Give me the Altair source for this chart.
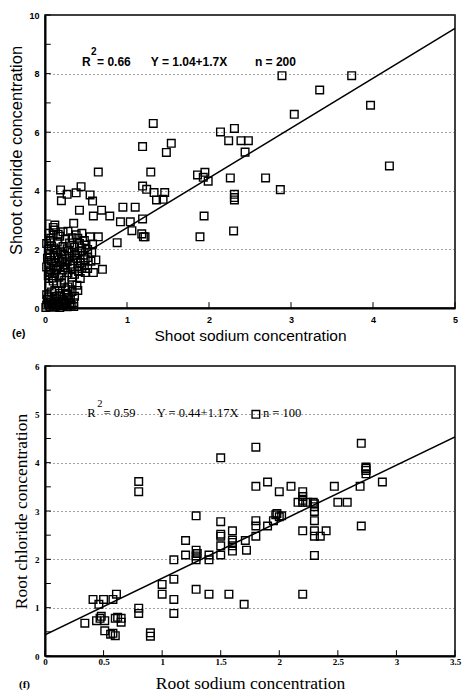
import altair as alt
import pandas as pd

# ---------------- panel (e): shoot ----------------
shoot_na = [
    2.89, 3.74, 3.35, 3.97, 3.04, 2.14, 2.31, 2.24, 2.39, 2.48, 2.44, 4.20, 1.95, 1.93, 1.99, 1.86,
    2.26, 2.69, 2.87, 2.31, 2.31, 2.31, 1.94, 1.89, 2.30, 1.32, 1.19, 1.54, 1.48, 0.65, 1.29,
    0.19, 0.27, 0.38, 0.44, 0.20, 0.55, 0.58, 0.42, 0.59, 0.69, 0.79, 0.95, 1.10, 0.92, 1.04, 1.19,
    1.19, 1.24, 1.33, 1.36, 1.46, 1.44, 1.06, 1.18, 1.20, 1.22, 0.88, 0.65, 0.70, 0.59, 0.49, 0.62,
    0.45, 0.43, 0.39, 0.33,
    0.12, 0.35, 0.10, 0.11, 0.22, 0.45, 0.28, 0.05, 0.10, 0.55, 0.18, 0.33, 0.40, 0.25, 0.06,
    0.15, 0.30, 0.42, 0.50, 0.58, 0.08, 0.22, 0.36, 0.04, 0.13, 0.27, 0.45, 0.52, 0.19, 0.33, 0.40, 0.57,
    0.06, 0.11, 0.24, 0.30, 0.47, 0.16, 0.38, 0.52, 0.03, 0.08, 0.20, 0.27, 0.35, 0.43, 0.13, 0.56, 0.05, 0.31,
    0.10, 0.18, 0.25, 0.40, 0.48, 0.02, 0.14, 0.33, 0.22, 0.06, 0.12, 0.28, 0.36, 0.04, 0.20, 0.17, 0.09,
    0.14, 0.20, 0.28, 0.10, 0.24, 0.33, 0.08, 0.18, 0.28, 0.36, 0.12, 0.25,
    0.03, 0.07, 0.12, 0.16, 0.21, 0.26, 0.31, 0.35, 0.05, 0.10,
    0.02, 0.06, 0.09, 0.13, 0.17, 0.22, 0.27, 0.32, 0.04, 0.15, 0.20, 0.11, 0.24, 0.30, 0.01,
    0.07, 0.16, 0.38, 0.48, 0.02, 0.11, 0.29, 0.49, 0.21, 0.41, 0.52, 0.07, 0.24, 0.36, 0.15, 0.44,
    0.33, 0.05, 0.19, 0.29, 0.02, 0.08, 0.14, 0.23, 0.18, 0.35, 0.26, 0.40,
]
shoot_cl = [
    7.93, 7.93, 7.44, 6.92, 6.61, 6.01, 6.13, 5.71, 5.71, 5.71, 5.32, 4.85, 4.63, 4.46, 4.33, 4.54,
    4.44, 4.44, 4.04, 3.88, 3.77, 3.69, 3.14, 2.43, 2.63, 6.30, 5.51, 5.62, 5.31, 4.64, 4.64,
    4.03, 3.88, 3.93, 4.14, 3.66, 3.86, 3.65, 3.34, 3.14, 3.34, 3.14, 3.44, 3.44, 2.94, 2.94, 3.04,
    4.16, 4.05, 3.94, 3.69, 3.94, 3.71, 2.64, 2.53, 2.43, 2.43, 2.23, 2.43, 1.32, 1.21, 1.21, 1.64,
    1.35, 1.01, 0.78, 0.56,
    2.83, 2.89, 2.75, 2.66, 2.60, 2.55, 2.62, 2.55, 2.49, 2.43, 2.45, 2.40, 2.38, 2.35, 2.30,
    2.25, 2.22, 2.20, 2.15, 2.18, 2.12, 2.10, 2.08, 2.00, 1.98, 2.02, 1.95, 2.00, 1.92, 1.90, 1.88, 1.90,
    1.82, 1.78, 1.80, 1.75, 1.80, 1.72, 1.70, 1.72, 1.70, 1.62, 1.60, 1.58, 1.62, 1.55, 1.55, 1.60, 1.50, 1.50,
    1.42, 1.40, 1.38, 1.42, 1.45, 1.40, 1.32, 1.35, 1.30, 1.22, 1.18, 1.20, 1.15, 1.10, 1.12, 1.05, 1.02,
    0.84, 0.84, 0.72, 0.92, 0.95, 0.88, 0.55, 0.50, 0.45, 0.40, 0.60, 0.62,
    0.30, 0.25, 0.32, 0.22, 0.30, 0.20, 0.28, 0.18, 0.38, 0.15,
    0.10, 0.05, 0.12, 0.06, 0.10, 0.08, 0.04, 0.09, 0.18, 0.15, 0.18, 0.03, 0.13, 0.15, 0.02,
    2.38, 2.52, 2.50, 2.30, 2.20, 2.05, 1.95, 1.65, 1.68, 1.25, 1.35, 1.30, 1.48, 1.80, 1.90, 2.05,
    1.05, 0.75, 0.42, 0.35, 0.45, 0.20, 0.40, 0.25, 0.02, 0.05, 0.50, 0.60,
]
shoot_fit = {"a": 1.04, "b": 1.7, "x": [0, 5]}
shoot_xticks = [0, 1, 2, 3, 4, 5]
shoot_yticks = [0, 1, 2, 3, 4, 5, 6, 7, 8, 9, 10]
shoot_ylabels = [0, 2, 4, 6, 8, 10]

# ---------------- panel (f): root ----------------
root_na = [
    1.80, 1.80, 1.50, 2.70, 2.74, 2.74, 2.74, 0.80, 0.80, 1.29, 1.50, 1.60, 1.20, 1.50, 1.50, 1.60,
    1.60, 1.60, 1.71, 1.72, 1.29, 1.29, 1.29, 1.20, 1.40, 1.40, 1.50, 1.10, 1.00, 1.00, 1.10, 1.10,
    1.10, 1.29, 1.40, 1.57, 1.70, 0.80, 0.80, 0.90, 0.90, 0.34, 0.41, 0.46, 0.50, 0.58, 0.61, 0.44,
    0.47, 0.51, 0.51, 0.58, 0.60, 0.60, 0.65, 0.65, 2.88, 2.69, 2.47, 1.80, 1.90, 2.00, 2.10, 2.20,
    2.20, 2.16, 2.20, 2.24, 2.29, 2.50, 2.58, 2.30, 2.30, 1.97, 2.00, 1.80, 1.80, 1.95, 1.90, 2.30,
    2.70, 2.20, 2.30, 2.40, 2.30, 2.35, 1.80, 2.30, 2.20, 2.02, 0.48, 0.62, 1.60, 2.30, 2.20, 1.30,
    0.56, 2.74, 1.50, 1.98,
]
root_cl = [
    5.00, 4.32, 4.10, 4.40, 3.91, 3.84, 3.77, 3.61, 3.40, 2.90, 2.78, 2.59, 2.39, 2.48, 2.28, 2.40,
    2.28, 2.17, 2.39, 2.19, 2.19, 2.07, 1.99, 2.09, 2.09, 1.99, 2.09, 1.99, 1.48, 1.28, 1.59, 1.17,
    0.88, 1.38, 1.28, 1.28, 1.07, 0.99, 0.88, 0.48, 0.41, 0.68, 1.17, 1.07, 1.17, 1.17, 1.28, 0.73,
    0.78, 0.73, 0.52, 0.47, 0.42, 0.78, 0.78, 0.70, 3.60, 3.51, 3.51, 3.51, 3.60, 3.40, 3.51, 3.40,
    3.30, 3.18, 3.18, 3.18, 3.18, 3.18, 3.18, 3.09, 2.99, 2.92, 2.88, 2.80, 2.69, 2.80, 2.69, 2.80,
    2.69, 2.59, 2.59, 2.59, 2.48, 2.48, 2.48, 2.08, 1.28, 2.90, 0.82, 0.80, 2.35, 3.15, 3.22, 2.12,
    0.45, 3.88, 2.52, 2.95,
]
root_fit = {"a": 0.44, "b": 1.17, "x": [0, 3.5]}
root_xticks = [0, 0.5, 1, 1.5, 2, 2.5, 3, 3.5]
root_yticks = [0, 0.5, 1, 1.5, 2, 2.5, 3, 3.5, 4, 4.5, 5, 5.5, 6]
root_ylabels = [0, 1, 2, 3, 4, 5, 6]


def panel(na, cl, fit, xdom, ydom, xticks, yticks, ylabels, xtitle, ytitle, font, fmt,
          w, h, tick_dy, tick_dx, ann, ann_size, letter, letter_pos,
          x_lpad, x_tpad, xt_size, yt_size, ytitle_y):
    df = pd.DataFrame({"na": na, "cl": cl})
    xs = alt.Scale(domain=xdom, nice=False, zero=False)
    ys = alt.Scale(domain=ydom, nice=False, zero=False)
    xaxis = alt.Axis(values=xticks, format=fmt, title=xtitle, grid=False, ticks=False,
                     domainColor="black", domainWidth=2, labelFont=font, labelFontSize=9,
                     labelFontWeight="bold", labelColor="black", labelPadding=x_lpad,
                     titleFont=font, titleFontSize=xt_size, titleFontWeight="normal",
                     titleColor="black", titlePadding=x_tpad, labelFlush=False)
    ykw = dict(values=ylabels, format="d", title=ytitle, grid=True, gridDash=[1, 3],
               gridColor="#444", gridWidth=1, ticks=False, domainColor="black",
               domainWidth=2, labelFont=font, labelFontSize=9, labelFontWeight="bold",
               labelColor="black", labelPadding=6, titleFont=font, titleFontSize=yt_size,
               titleFontWeight="normal", titleColor="black", titlePadding=4, labelFlush=False)
    if ytitle_y is not None:
        ykw["titleY"] = ytitle_y
    yaxis = alt.Axis(**ykw)
    pts = alt.Chart(df).mark_point(shape="square", filled=False, size=58, color="black",
                                   strokeWidth=1.4, opacity=1).encode(
        x=alt.X("na:Q", scale=xs, axis=xaxis),
        y=alt.Y("cl:Q", scale=ys, axis=yaxis),
    )
    fdf = pd.DataFrame({"na": fit["x"], "cl": [fit["a"] + fit["b"] * v for v in fit["x"]]})
    line = alt.Chart(fdf).mark_line(color="black", strokeWidth=1.5, clip=True).encode(
        x="na:Q", y="cl:Q")
    xt = alt.Chart(pd.DataFrame({"na": xticks})).mark_rule(color="black", strokeWidth=1).encode(
        x="na:Q", y=alt.datum(ydom[0]), y2=alt.datum(ydom[0] + tick_dy))
    yt = alt.Chart(pd.DataFrame({"cl": yticks})).mark_rule(color="black", strokeWidth=1).encode(
        y="cl:Q", x=alt.datum(xdom[0]), x2=alt.datum(xdom[0] + tick_dx))
    layers = [pts, line, xt, yt]
    for txt, px, py, sup in ann:
        layers.append(
            alt.Chart(pd.DataFrame({"t": [txt]})).mark_text(
                align="left", baseline="alphabetic", font=font,
                fontSize=ann_size - 2 if sup else ann_size,
                fontWeight="bold" if font.endswith("Sans") else "normal",
                color="black").encode(text="t:N", x=alt.datum(px), y=alt.datum(py)))
    layers.append(
        alt.Chart(pd.DataFrame({"t": [letter]})).mark_text(
            align="left", baseline="middle", font=font, fontSize=11, fontWeight="bold",
            color="black").encode(text="t:N", x=alt.value(letter_pos[0]),
                                  y=alt.value(letter_pos[1])))
    return alt.layer(*layers).properties(width=w, height=h)


top = panel(shoot_na, shoot_cl, shoot_fit, [0, 5], [0, 10], shoot_xticks, shoot_yticks,
            shoot_ylabels, "Shoot sodium concentration", "Shoot chloride concentration",
            "Liberation Sans", "d", 410, 293, 0.2, 0.07,
            [("R", 0.45, 8.26, False), ("2", 0.56, 8.63, True), ("= 0.66", 0.635, 8.26, False),
             ("Y = 1.04+1.7X", 1.29, 8.26, False), ("n = 200", 2.56, 8.26, False)], 12,
            "(e)", (-33, 319), 7, 4, 15.5, 16.5, 135)

bottom = panel(root_na, root_cl, root_fit, [0, 3.5], [0, 6], root_xticks, root_yticks,
               root_ylabels, "Root sodium concentration", "Root chloride concentration",
               "Liberation Serif", "~r", 410, 290, 0.12, 0.05,
               [("R", 0.36, 4.95, False), ("2", 0.445, 5.16, True), ("= 0.59", 0.50, 4.95, False),
                ("Y = 0.44+1.17X", 0.955, 4.95, False), ("n = 100", 1.86, 4.95, False)], 12.5,
               "(f)", (-26, 319), 1, 8, 17.5, 17.5, None)

chart = alt.vconcat(top, bottom, spacing=16).properties(
    padding={"top": 10, "left": 8, "right": 0, "bottom": 0},
    background="white",
).configure_view(stroke="black", strokeWidth=1.5)

chart.save("out.html", embed_options={"renderer": "svg", "actions": False})
